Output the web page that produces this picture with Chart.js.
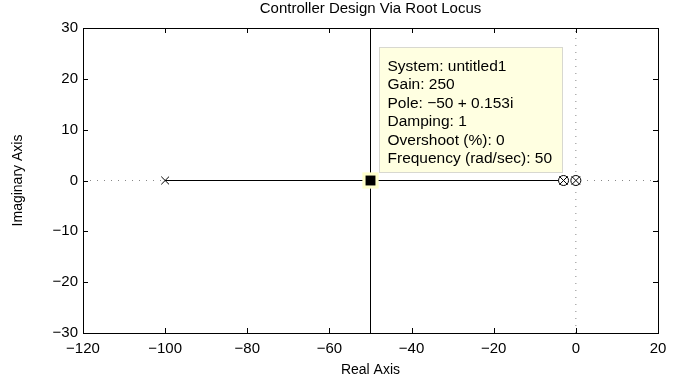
<!DOCTYPE html>
<html>
<head>
<meta charset="utf-8">
<script src="https://cdn.jsdelivr.net/npm/chart.js@4/dist/chart.umd.min.js"></script>
<style>
  html, body { margin: 0; padding: 0; background: #fff; }
  #wrap { width: 692px; height: 387px; }
</style>
</head>
<body>
<div id="wrap"><canvas id="rlocus"></canvas></div>
<script>
// root locus data
const realRange = [-120, 20];
const imagRange = [-30, 30];
const poles = [-100];
const zeros = [-3, 0];
const realBranch = [-100, -3];      // locus along the real axis
const breakaway = -50;              // vertical branch at this real part
const tipPole = [-50, 0.153];
const chartTitle = "Controller Design Via Root Locus";
const tipLines = [
  "System: untitled1",
  "Gain: 250",
  "Pole: \u221250 + 0.153i",
  "Damping: 1",
  "Overshoot (%): 0",
  "Frequency (rad/sec): 50"
];

const font = "'Liberation Sans', Arial, Helvetica, sans-serif";
const minus = (v) => String(v).replace("-", "\u2212");

// title over the axes, box, inward ticks and the data tip
const matlabAxes = {
  id: "matlabAxes",
  afterDatasetsDraw(chart) {
    const { ctx, chartArea: a, scales } = chart;
    ctx.save();
    ctx.fillStyle = "#000";
    ctx.font = "15px " + font;
    ctx.textAlign = "center";
    ctx.textBaseline = "middle";
    ctx.fillText(chartTitle, (a.left + a.right) / 2, 9);

    ctx.strokeStyle = "#000";
    ctx.lineWidth = 1;
    ctx.beginPath();
    scales.x.ticks.forEach((t) => {
      const px = Math.round(scales.x.getPixelForValue(t.value)) + 0.5;
      ctx.moveTo(px, a.bottom); ctx.lineTo(px, a.bottom - 5);
      ctx.moveTo(px, a.top); ctx.lineTo(px, a.top + 5);
    });
    scales.y.ticks.forEach((t) => {
      const py = Math.round(scales.y.getPixelForValue(t.value)) + 0.5;
      ctx.moveTo(a.left, py); ctx.lineTo(a.left + 5, py);
      ctx.moveTo(a.right, py); ctx.lineTo(a.right - 5, py);
    });
    ctx.stroke();
    ctx.strokeRect(Math.round(a.left) + 0.5, Math.round(a.top) + 0.5,
      Math.round(a.right - a.left), Math.round(a.bottom - a.top));

    // data tip box
    const px = scales.x.getPixelForValue(tipPole[0]);
    const py = scales.y.getPixelForValue(0);
    const w = 183, h = 125;
    const bx = Math.round(px + 8) + 0.5, by = Math.round(py - 9 - h) + 0.5;
    ctx.fillStyle = "#ffffe1";
    ctx.strokeStyle = "#d8d8d0";
    ctx.fillRect(bx, by, w, h);
    ctx.strokeRect(bx, by, w, h);
    ctx.fillStyle = "#000";
    ctx.font = "15.5px " + font;
    ctx.textAlign = "left";
    ctx.textBaseline = "middle";
    tipLines.forEach((s, i) => ctx.fillText(s, bx + 8, by + 19 + i * 18.5));
    ctx.restore();
  }
};

new Chart(document.getElementById("rlocus"), {
  type: "scatter",
  data: {
    datasets: [
      {
        order: 9,
        data: [{ x: realRange[0], y: 0 }, { x: realRange[1], y: 0 }],
        showLine: true, borderColor: "#888", borderWidth: 1, borderDash: [1, 6],
        pointRadius: 0
      },
      {
        order: 8,
        data: [{ x: 0, y: imagRange[0] }, { x: 0, y: imagRange[1] }],
        showLine: true, borderColor: "#888", borderWidth: 1, borderDash: [1, 6],
        pointRadius: 0
      },
      {
        order: 7,
        data: realBranch.map((x) => ({ x, y: 0 })),
        showLine: true, borderColor: "#000", borderWidth: 1, pointRadius: 0
      },
      {
        order: 6,
        data: imagRange.map((y) => ({ x: breakaway, y })),
        showLine: true, borderColor: "#000", borderWidth: 1, pointRadius: 0
      },
      {
        order: 5,
        data: poles.map((x) => ({ x, y: 0 })),
        pointStyle: "crossRot", pointRadius: 5.5, borderColor: "#000", borderWidth: 1
      },
      {
        order: 4,
        data: zeros.map((x) => ({ x, y: 0 })),
        pointStyle: "circle", pointRadius: 5, borderColor: "#000",
        backgroundColor: "#fff", borderWidth: 1
      },
      {
        order: 3,
        data: zeros.map((x) => ({ x, y: 0 })),
        pointStyle: "crossRot", pointRadius: 6, borderColor: "#000", borderWidth: 1
      },
      {
        order: 2,
        data: [{ x: tipPole[0], y: 0 }],
        pointStyle: "rect", pointRadius: 11.5, borderWidth: 0,
        backgroundColor: "#ffffcc", borderColor: "#ffffcc"
      },
      {
        order: 1,
        data: [{ x: tipPole[0], y: 0 }],
        pointStyle: "rect", pointRadius: 7, borderWidth: 0,
        backgroundColor: "#000", borderColor: "#000"
      }
    ]
  },
  options: {
    responsive: true,
    maintainAspectRatio: false,
    animation: false,
    events: [],
    layout: { padding: { left: 0, right: 34, top: 28, bottom: 0 } },
    plugins: {
      legend: { display: false },
      tooltip: { enabled: false },
      title: { display: false }
    },
    scales: {
      x: {
        type: "linear",
        min: realRange[0], max: realRange[1],
        ticks: { stepSize: 20, color: "#000", font: { family: font, size: 15 },
          padding: 7, maxRotation: 0, callback: minus },
        grid: { drawOnChartArea: false, drawTicks: false },
        border: { display: false },
        title: { display: true, text: "Real Axis", color: "#000",
          font: { family: font, size: 14 }, padding: { top: 0, bottom: 8 } },
        afterFit: (s) => { s.height = 54; }
      },
      y: {
        type: "linear",
        min: imagRange[0], max: imagRange[1],
        ticks: { stepSize: 10, color: "#000", font: { family: font, size: 15 },
          padding: 5, callback: minus },
        grid: { drawOnChartArea: false, drawTicks: false },
        border: { display: false },
        title: { display: true, text: "Imaginary Axis", color: "#000",
          font: { family: font, size: 14 }, padding: { top: 10, bottom: 0 } },
        afterFit: (s) => { s.width = 83; }
      }
    }
  },
  plugins: [matlabAxes]
});
</script>
</body>
</html>
